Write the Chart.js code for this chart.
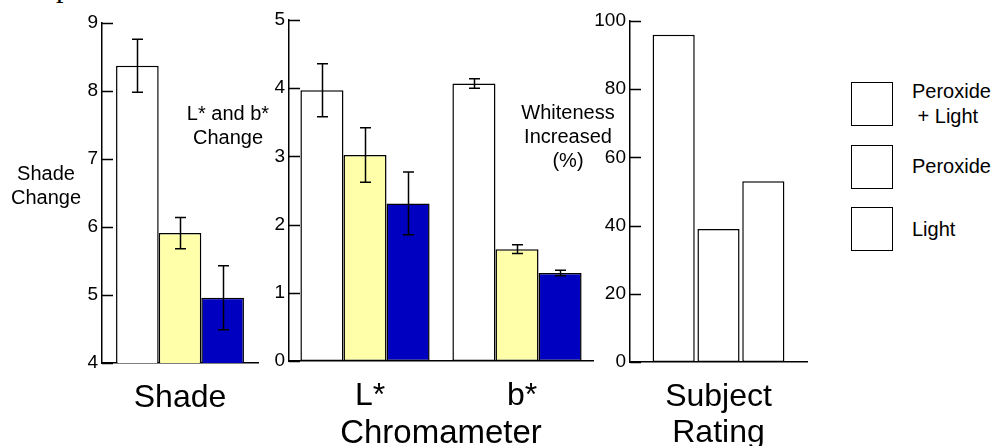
<!DOCTYPE html>
<html>
<head>
<meta charset="utf-8">
<script src="https://cdn.jsdelivr.net/npm/chart.js@4.4.1/dist/chart.umd.min.js"></script>
<style>
  html, body { margin: 0; padding: 0; background: #fff; }
  body { width: 996px; height: 446px; position: relative; overflow: hidden;
         font-family: 'Liberation Sans', Arial, sans-serif; color: #000; }
  canvas { position: absolute; top: 0; }
  .lbl { position: absolute; font-size: 20px; line-height: 24px; text-align: center; white-space: nowrap; }
  .swatch { position: absolute; left: 851px; width: 40px; height: 42px; border: 1.5px solid #000; background: #fff; }
  .legtxt { position: absolute; left: 912px; font-size: 20px; line-height: 25px; white-space: pre; }
  .cut { position: absolute; left: 56px; top: -30px; font-family: 'Liberation Serif', serif; font-size: 30px; }
</style>
</head>
<body>
<div class="cut">p</div>
<canvas id="shade" width="240" height="446" style="left:30px"></canvas>
<canvas id="chroma" width="360" height="458" style="left:240px"></canvas>
<canvas id="rating" width="250" height="446" style="left:570px"></canvas>

<div class="lbl" style="left:6px; top:161px; width:80px;">Shade<br>Change</div>
<div class="lbl" style="left:178px; top:101px; width:100px;">L* and b*<br>Change</div>
<div class="lbl" style="left:508px; top:100px; width:120px;">Whiteness<br>Increased<br>(%)</div>

<div class="swatch" style="top:82px"></div>
<div class="swatch" style="top:145px"></div>
<div class="swatch" style="top:207px"></div>
<div class="legtxt" style="top:79px">Peroxide<br> + Light</div>
<div class="legtxt" style="top:154px">Peroxide</div>
<div class="legtxt" style="top:217px">Light</div>

<script>
const FONT = "'Liberation Sans', Arial, sans-serif";

// treatments, in bar order
const treatments = ['Peroxide + Light', 'Peroxide', 'Light'];
const fills = ['#FFFFFF', '#FFFFAA', '#0000C0'];

// Shade change (one value per treatment)
const shadeCats = ['Shade'];
const shadeMean = [8.37, 5.91, 4.96];
const shadeErr = [0.39, 0.23, 0.47];

// Chromameter, values per category [L*, b*]
const chromaCats = ['L*', 'b*'];
const chromaPeroxLight = [3.97, 4.07];
const chromaPeroxLightErr = [0.39, 0.07];
const chromaPerox = [3.02, 1.64];
const chromaPeroxErr = [0.40, 0.065];
const chromaLight = [2.31, 1.29];
const chromaLightErr = [0.46, 0.04];

// Subject rating, whiteness increased (%)
const ratingCats = [['Subject', 'Rating']];
const ratingVals = [96, 39, 53];

// y tick settings
const shadeTicks = { min: 4, max: 9, step: 1 };
const chromaTicks = { min: 0, max: 5, step: 1 };
const ratingTicks = { min: 0, max: 100, step: 20 };

// short tick marks drawn inward from the y axis, plus error bars
const axisMarks = {
  id: 'axisMarks',
  afterDatasetsDraw(chart) {
    const ctx = chart.ctx;
    const y = chart.scales.y;
    const left = chart.chartArea.left;
    ctx.save();
    ctx.strokeStyle = '#000';
    ctx.lineWidth = 1.5;
    ctx.beginPath();
    for (const t of y.ticks) {
      const py = Math.round(y.getPixelForValue(t.value)) + 0.5;
      ctx.moveTo(left, py);
      ctx.lineTo(left + 11, py);
    }
    ctx.stroke();

    chart.data.datasets.forEach((ds, i) => {
      if (!ds.errors) return;
      const meta = chart.getDatasetMeta(i);
      meta.data.forEach((bar, j) => {
        const v = ds.data[j];
        const e = ds.errors[j];
        const top = y.getPixelForValue(v + e);
        const bot = y.getPixelForValue(v - e);
        const x = Math.round(bar.x) + 0.5;
        ctx.beginPath();
        ctx.moveTo(x, top);
        ctx.lineTo(x, bot);
        ctx.moveTo(x - 5.5, top);
        ctx.lineTo(x + 5.5, top);
        ctx.moveTo(x - 5.5, bot);
        ctx.lineTo(x + 5.5, bot);
        ctx.stroke();
      });
    });
    ctx.restore();
  }
};

function makeOptions(ticks, pad, yWidth, xHeight, catPct, barPct, xTitle, labelOffset) {
  return {
    responsive: false,
    animation: false,
    layout: { padding: pad },
    plugins: { legend: { display: false }, tooltip: { enabled: false } },
    scales: {
      x: {
        offset: true,
        grid: { display: false, drawTicks: false },
        border: { display: true, color: '#000', width: 1.5 },
        ticks: { color: '#000', font: { family: FONT, size: 32, lineHeight: 1.1 }, padding: 18, labelOffset: labelOffset || 0 },
        title: xTitle ? { display: true, text: xTitle, color: '#000', font: { family: FONT, size: 33 }, padding: { top: 0, bottom: 4 } } : { display: false },
        afterFit(s) { s.height = xHeight; }
      },
      y: {
        min: ticks.min,
        max: ticks.max,
        grid: { display: false, drawTicks: false },
        border: { display: true, color: '#000', width: 1.5 },
        ticks: { stepSize: ticks.step, color: '#000', font: { family: FONT, size: 19 }, padding: 4 },
        afterFit(s) { s.width = yWidth; }
      }
    },
    datasets: { bar: { categoryPercentage: catPct, barPercentage: barPct } }
  };
}

function barSet(label, data, fill, errors) {
  return {
    label: label,
    data: data,
    errors: errors,
    backgroundColor: fill,
    borderColor: '#000',
    borderWidth: 1.5,
    borderSkipped: false
  };
}

new Chart(document.getElementById('shade'), {
  type: 'bar',
  data: {
    labels: shadeCats,
    datasets: treatments.map((t, i) => barSet(t, [shadeMean[i]], fills[i], [shadeErr[i]]))
  },
  options: makeOptions(shadeTicks, { top: 23, right: 12, left: 0, bottom: 0 }, 72, 83, 0.82, 1),
  plugins: [axisMarks]
});

new Chart(document.getElementById('chroma'), {
  type: 'bar',
  data: {
    labels: chromaCats,
    datasets: [
      barSet(treatments[0], chromaPeroxLight, fills[0], chromaPeroxLightErr),
      barSet(treatments[1], chromaPerox, fills[1], chromaPeroxErr),
      barSet(treatments[2], chromaLight, fills[2], chromaLightErr)
    ]
  },
  options: makeOptions(chromaTicks, { top: 20, right: 7, left: 0, bottom: 0 }, 49, 97, 0.85, 1, 'Chromameter', 5),
  plugins: [axisMarks]
});

new Chart(document.getElementById('rating'), {
  type: 'bar',
  data: {
    labels: ratingCats,
    datasets: treatments.map((t, i) => barSet(t, [ratingVals[i]], '#FFFFFF', null))
  },
  options: makeOptions(ratingTicks, { top: 21, right: 13, left: 0, bottom: 0 }, 60, 84, 0.76, 0.94),
  plugins: [axisMarks]
});
</script>
</body>
</html>
